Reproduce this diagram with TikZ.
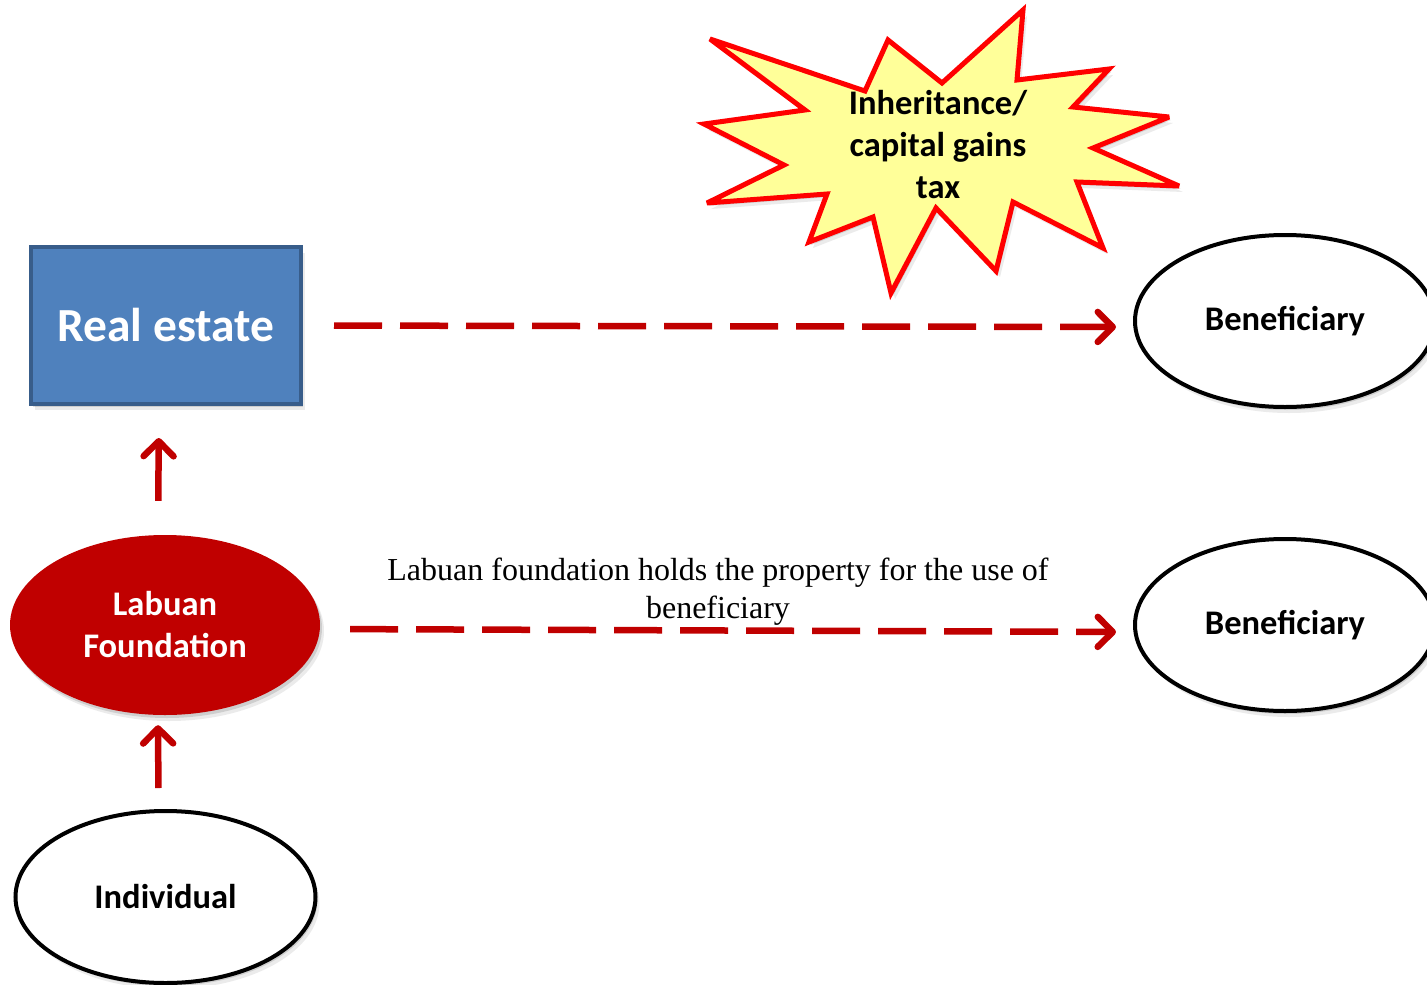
\documentclass[tikz,border=0pt]{standalone}
\usepackage{fontspec}
\setmainfont{Liberation Serif}
\newfontfamily\calibfont{Carlito}
\usetikzlibrary{arrows.meta,shapes.geometric,shadows}
\definecolor{flowred}{HTML}{C00000}
\definecolor{boxblue}{HTML}{4F81BD}
\definecolor{boxedge}{HTML}{385D8A}
\definecolor{burstfill}{HTML}{FFFF99}
\begin{document}
\begin{tikzpicture}[x=1pt,y=-1pt,
  softshadow/.style={
    general shadow={fill=black,opacity=0.12,shadow xshift=2pt,shadow yshift=-3pt},
    general shadow={fill=black,opacity=0.08,shadow xshift=4pt,shadow yshift=-6pt}},
  barb/.style={-{Straight Barb[length=15pt,width=30pt,line cap=round,line join=round]}},
  flow/.style={barb,draw=flowred,line width=6.5pt},
  dashflow/.style={flow,dash pattern=on 48pt off 18pt},
  party/.style={ellipse,draw=black,fill=white,line width=4pt,inner sep=0pt,
    minimum width=300pt,minimum height=172pt,softshadow,
    font=\calibfont\bfseries\fontsize{34.5}{42}\selectfont,align=center},
]
\clip (0,0) rectangle (1427,985);

% holding structure on the left
\node[draw=boxedge,fill=boxblue,line width=4pt,minimum width=270pt,minimum height=157pt,
  inner sep=0pt,softshadow,text=white,font=\calibfont\bfseries\fontsize{47.5}{56}\selectfont]
  (re) at (166,325.5) {Real estate};
\node[ellipse,fill=flowred,minimum width=310pt,minimum height=180pt,inner sep=0pt,softshadow,
  text=white,align=center,font=\calibfont\bfseries\fontsize{34.5}{42}\selectfont]
  (lab) at (165,625) {Labuan\\Foundation};
\node[party] (ind) at (165.5,897) {Individual};

% beneficiaries
\node[party] (ben1) at (1285,321) {Beneficiary};
\node[party] (ben2) at (1285,625) {Beneficiary};

% tax burst
\filldraw[draw=red,fill=burstfill,line width=5pt,line join=miter,miter limit=4,softshadow]
  (710,39) -- (865,91) -- (888,40) -- (942,83) -- (1023,10) -- (1017,80)
  -- (1109,69) -- (1073,107) -- (1169,117) -- (1093,148) -- (1179,186)
  -- (1077,182) -- (1103,248) -- (1013,202) -- (996,271) -- (936,208)
  -- (891,293) -- (873,217) -- (809,242) -- (827,194) -- (707,203)
  -- (784,165) -- (704,124) -- (805,110) -- cycle;
\node[align=center,font=\calibfont\bfseries\fontsize{34.5}{42}\selectfont]
  (tax) at (938,145) {Inheritance/\\capital gains\\tax};

% connectors
\draw[flow,shorten <=34pt,shorten >=32pt] ([xshift=-7pt]lab.north) -- ([xshift=-7pt]re.south);
\draw[flow,shorten <=21pt,shorten >=10pt] ([xshift=-7pt]ind.north) -- ([xshift=-7pt]lab.south);
\draw[dashflow,shorten <=31pt,shorten >=17pt] (re.east) -- ([yshift=-6pt]ben1.west);
\draw[dashflow,shorten <=30pt,shorten >=17pt] ([yshift=-4pt]lab.east) -- ([yshift=-7pt]ben2.west);

\node[align=center,font=\fontsize{32}{38}\selectfont] (note) at (718,592)
  {Labuan foundation holds the property for the use of\\beneficiary};
\end{tikzpicture}
\end{document}
